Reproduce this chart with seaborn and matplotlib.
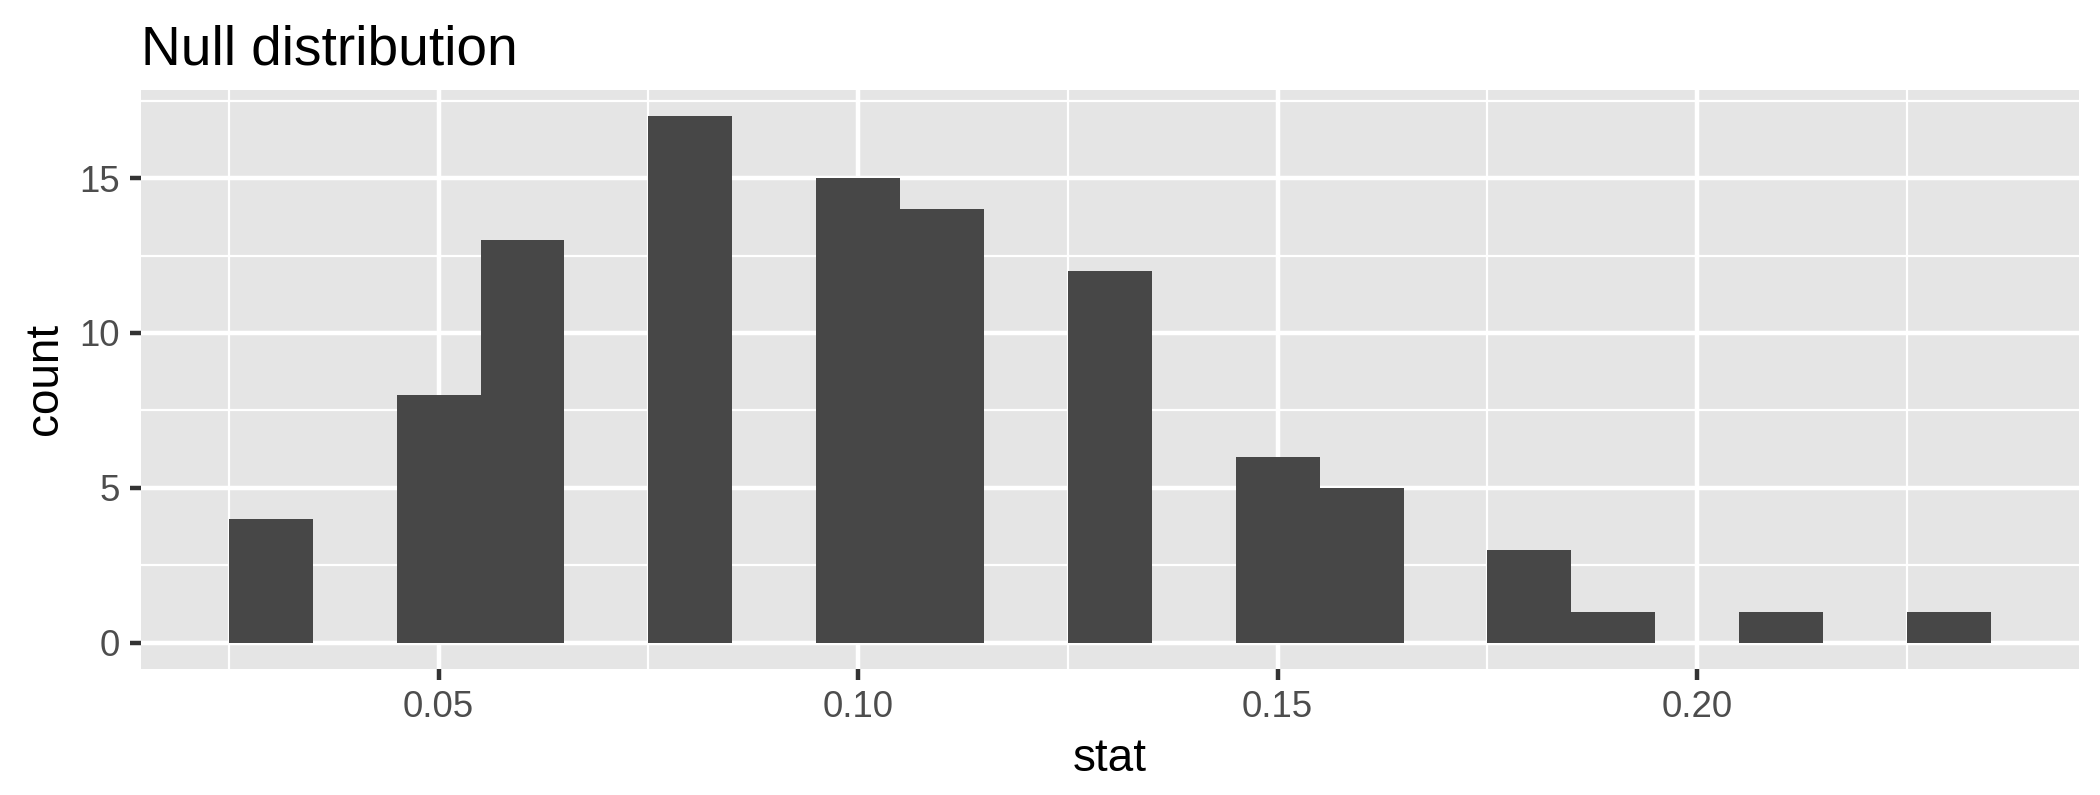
import matplotlib
matplotlib.use("Agg")
import matplotlib.pyplot as plt
from matplotlib.ticker import MultipleLocator
import pandas as pd
import seaborn as sns

# bin centres of the null distribution histogram and their counts
stat = [0.03, 0.05, 0.06, 0.08, 0.10, 0.11, 0.13, 0.15, 0.16, 0.18, 0.19, 0.21, 0.23]
count = [4, 8, 13, 17, 15, 14, 12, 6, 5, 3, 1, 1, 1]
x_ticks = [0.05, 0.10, 0.15, 0.20]
x_tick_labels = ["0.05", "0.10", "0.15", "0.20"]
y_ticks = [0, 5, 10, 15]

df = pd.DataFrame({"stat": stat, "count": count})

sns.set_theme(style="darkgrid")
plt.rcParams["font.family"] = ["Liberation Sans", "DejaVu Sans"]

fig = plt.figure(figsize=(7, 2.65), dpi=300)
ax = fig.add_axes([0.067, 0.1585, 0.923, 0.7285])

sns.histplot(data=df, x="stat", weights="count", binwidth=0.01, binrange=(0.025, 0.235),
             color="#474747", alpha=1, linewidth=0, ax=ax, zorder=3)

ax.set_facecolor("#E5E5E5")
ax.set_xlim(0.0145, 0.2455)
ax.set_ylim(-0.85, 17.85)
ax.set_xticks(x_ticks)
ax.set_xticklabels(x_tick_labels)
ax.set_yticks(y_ticks)
ax.xaxis.set_minor_locator(MultipleLocator(0.05, offset=0.025))
ax.yaxis.set_minor_locator(MultipleLocator(5, offset=2.5))

ax.grid(which="major", color="white", linewidth=1.07, zorder=1)
ax.grid(which="minor", color="white", linewidth=0.53, zorder=1)
ax.set_axisbelow(True)
for s in ax.spines.values():
    s.set_visible(False)

ax.tick_params(axis="both", which="major", length=2.75, width=1.07, color="#333333",
               labelsize=8.8, labelcolor="#4D4D4D", pad=2.2, bottom=True, left=True)
ax.tick_params(axis="both", which="minor", length=0)

ax.set_xlabel("stat", fontsize=11, color="black", labelpad=3)
ax.set_ylabel("count", fontsize=11, color="black", labelpad=3)
ax.set_title("Null distribution", fontsize=13.2, loc="left", color="black", pad=6)

fig.savefig("out.png", dpi=300)
